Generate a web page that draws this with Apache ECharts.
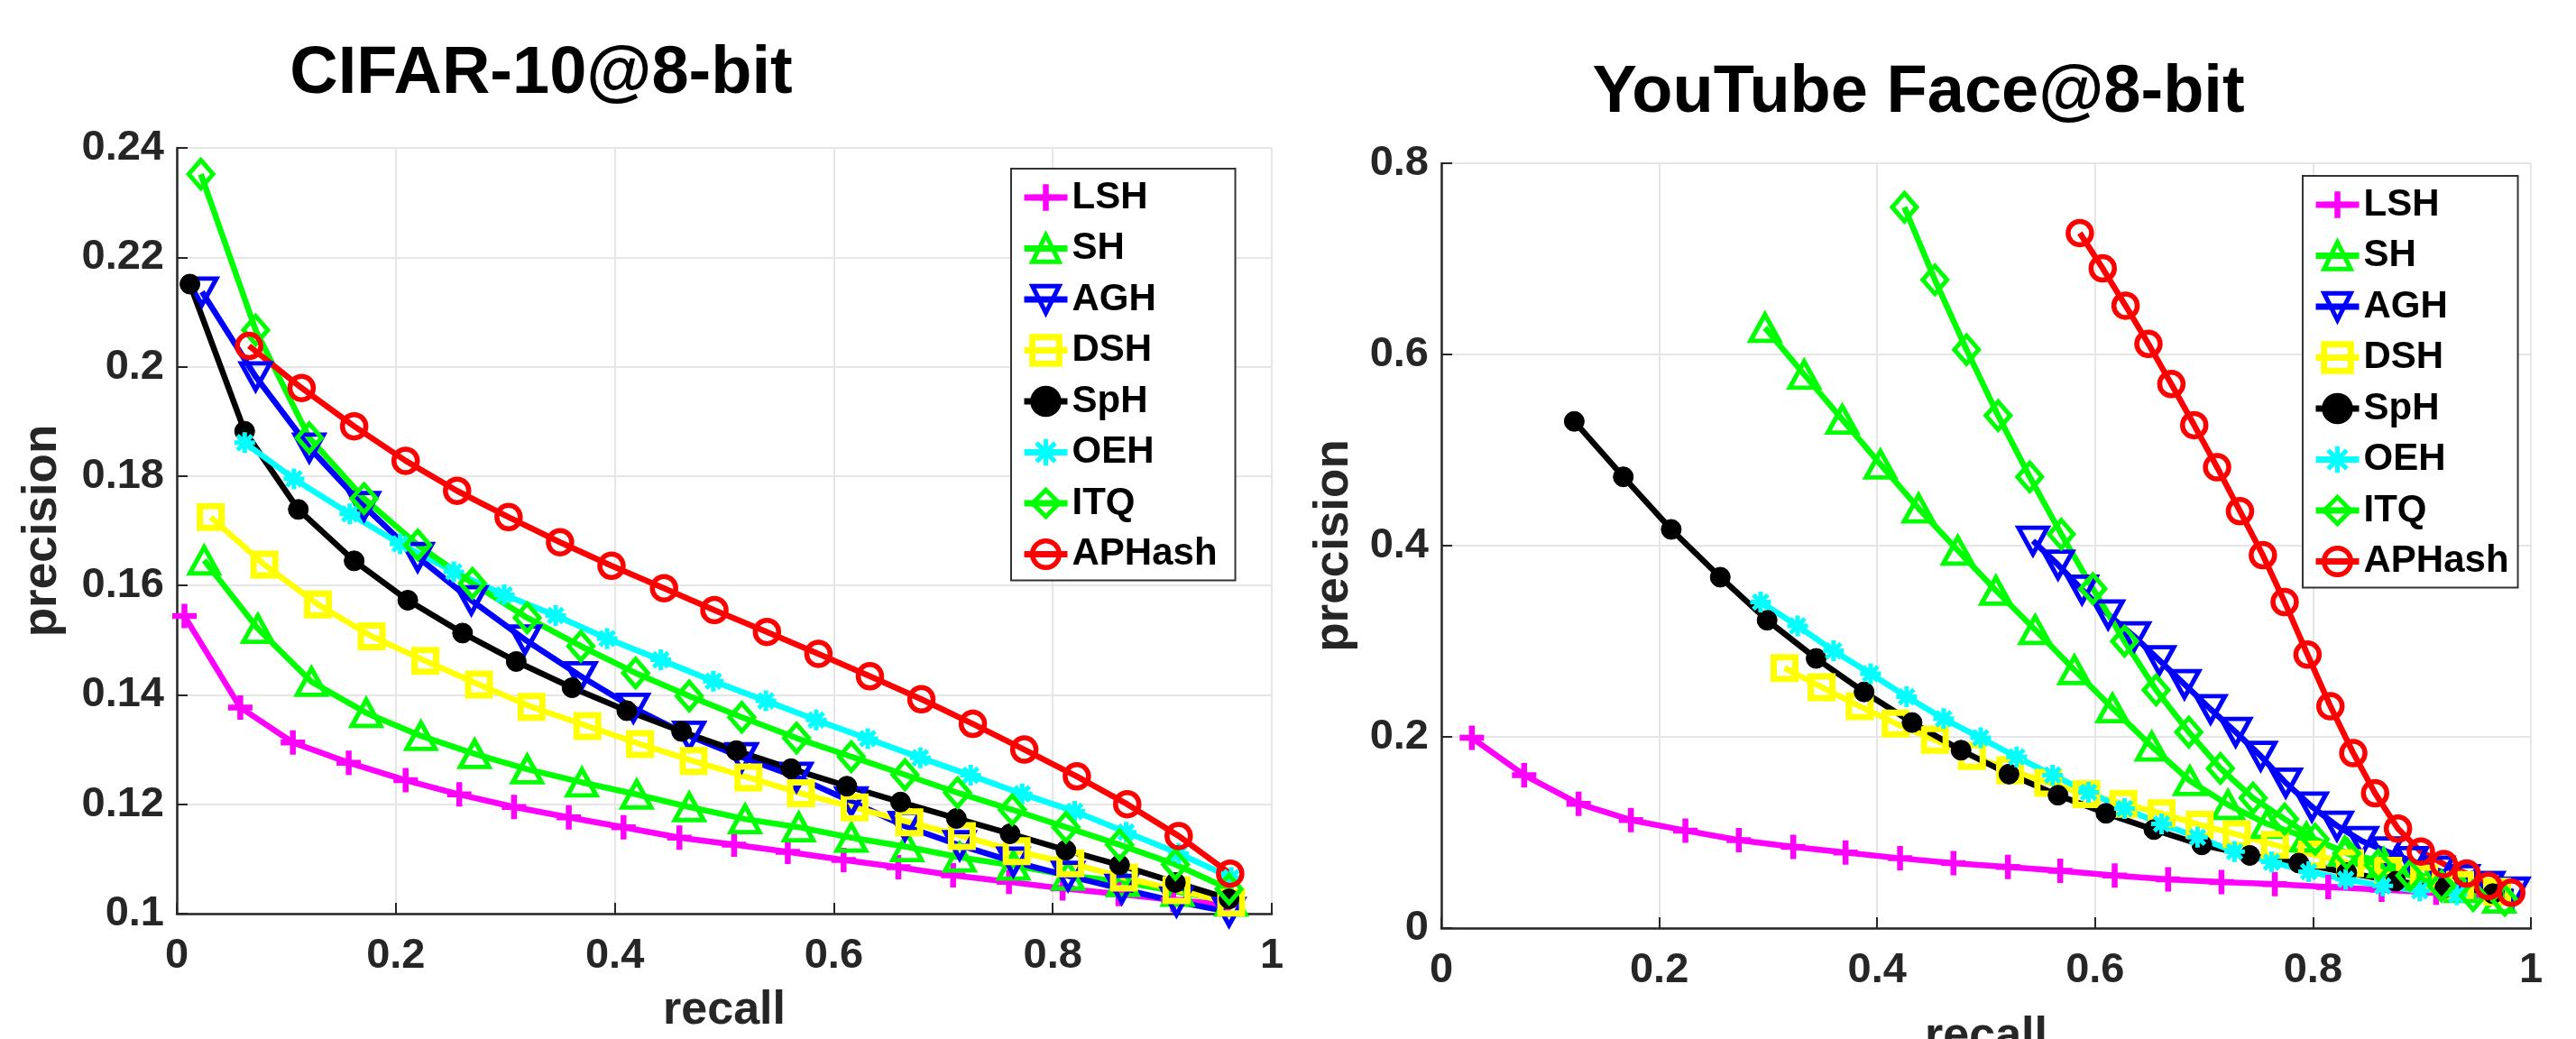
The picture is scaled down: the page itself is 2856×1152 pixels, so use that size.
<!DOCTYPE html>
<html><head><meta charset="utf-8">
<script src="https://cdn.jsdelivr.net/npm/echarts@6/dist/echarts.min.js"></script>
<style>html,body{margin:0;padding:0;background:#fff}#c{width:2856px;height:1152px}</style>
</head><body><div id="c"></div>
<script>
const methods = ['LSH','SH','AGH','DSH','SpH','OEH','ITQ','APHash'];
const titles = ['CIFAR-10@8-bit', 'YouTube Face@8-bit'];
const xTickValues = [0, 0.2, 0.4, 0.6, 0.8, 1];
const cifarYTicks = [0.1, 0.12, 0.14, 0.16, 0.18, 0.2, 0.22, 0.24];
const ytfYTicks = [0, 0.2, 0.4, 0.6, 0.8];

// ---- CIFAR-10 @ 8-bit (recall, precision) ----
const cifarRecallLSH = [0.007,0.058,0.106,0.157,0.209,0.258,0.308,0.358,0.408,0.459,0.509,0.558,0.609,0.659,0.709,0.760,0.809,0.860,0.910,0.960];
const cifarPrecLSH   = [0.1544,0.1377,0.1313,0.1276,0.1244,0.1218,0.1195,0.1176,0.1158,0.1139,0.1126,0.1113,0.1098,0.1085,0.1070,0.1058,0.1046,0.1036,0.1025,0.1016];
const cifarRecallSH  = [0.025,0.074,0.123,0.173,0.223,0.272,0.320,0.370,0.420,0.468,0.519,0.568,0.616,0.667,0.715,0.764,0.814,0.864,0.914,0.963];
const cifarPrecSH    = [0.1646,0.1521,0.1424,0.1367,0.1325,0.1292,0.1264,0.1240,0.1218,0.1195,0.1173,0.1158,0.1139,0.1122,0.1103,0.1088,0.1070,0.1058,0.1040,0.1022];
const cifarRecallAGH = [0.023,0.072,0.121,0.171,0.220,0.269,0.318,0.369,0.417,0.468,0.516,0.566,0.616,0.665,0.715,0.764,0.814,0.863,0.913,0.961];
const cifarPrecAGH   = [0.2137,0.1982,0.1852,0.1745,0.1652,0.1573,0.1501,0.1434,0.1376,0.1325,0.1286,0.1250,0.1205,0.1160,0.1125,0.1095,0.1069,0.1045,0.1022,0.1003];
const cifarRecallDSH = [0.031,0.080,0.129,0.178,0.227,0.276,0.324,0.375,0.423,0.472,0.522,0.570,0.619,0.669,0.717,0.767,0.816,0.865,0.913,0.963];
const cifarPrecDSH   = [0.1725,0.1638,0.1565,0.1507,0.1462,0.1419,0.1378,0.1343,0.1310,0.1279,0.1249,0.1220,0.1194,0.1167,0.1142,0.1114,0.1092,0.1066,0.1043,0.1020];
const cifarRecallSpH = [0.012,0.062,0.111,0.162,0.211,0.261,0.310,0.361,0.411,0.461,0.511,0.561,0.612,0.661,0.712,0.761,0.812,0.861,0.912,0.961];
const cifarPrecSpH   = [0.2151,0.1882,0.1739,0.1645,0.1573,0.1513,0.1461,0.1413,0.1371,0.1333,0.1298,0.1265,0.1233,0.1204,0.1174,0.1146,0.1116,0.1089,0.1057,0.1027];
const cifarRecallOEH = [0.062,0.107,0.158,0.204,0.253,0.299,0.346,0.393,0.442,0.490,0.538,0.584,0.631,0.679,0.725,0.772,0.820,0.867,0.915,0.963];
const cifarPrecOEH   = [0.1861,0.1795,0.1731,0.1676,0.1625,0.1583,0.1545,0.1503,0.1464,0.1425,0.1389,0.1354,0.1320,0.1285,0.1253,0.1219,0.1187,0.1149,0.1110,0.1066];
const cifarRecallITQ = [0.022,0.072,0.121,0.171,0.220,0.270,0.320,0.369,0.419,0.468,0.516,0.566,0.616,0.665,0.713,0.763,0.812,0.861,0.912,0.961];
const cifarPrecITQ   = [0.2352,0.2067,0.1870,0.1759,0.1674,0.1604,0.1541,0.1489,0.1440,0.1398,0.1359,0.1321,0.1287,0.1254,0.1221,0.1190,0.1158,0.1126,0.1090,0.1045];
const cifarRecallAPHash = [0.066,0.114,0.162,0.209,0.256,0.303,0.350,0.397,0.445,0.491,0.539,0.586,0.633,0.680,0.727,0.774,0.822,0.868,0.915,0.962];
const cifarPrecAPHash   = [0.2038,0.1961,0.1891,0.1828,0.1773,0.1725,0.1679,0.1636,0.1595,0.1555,0.1515,0.1475,0.1434,0.1392,0.1347,0.1300,0.1251,0.1200,0.1142,0.1073];

// ---- YouTube Face @ 8-bit (recall, precision) ----
const ytfRecallLSH = [0.028,0.076,0.126,0.174,0.224,0.273,0.323,0.371,0.421,0.470,0.520,0.568,0.618,0.667,0.716,0.765,0.814,0.863,0.913,0.961];
const ytfPrecLSH   = [0.199,0.160,0.130,0.113,0.102,0.092,0.085,0.079,0.073,0.068,0.064,0.060,0.055,0.051,0.048,0.046,0.043,0.040,0.037,0.035];
const ytfRecallSH  = [0.297,0.333,0.368,0.403,0.438,0.474,0.509,0.545,0.581,0.616,0.652,0.687,0.722,0.758,0.794,0.829,0.865,0.900,0.936,0.971];
const ytfPrecSH    = [0.628,0.579,0.532,0.485,0.439,0.395,0.353,0.312,0.270,0.230,0.190,0.154,0.129,0.109,0.095,0.080,0.068,0.055,0.042,0.031];
const ytfRecallAGH = [0.543,0.566,0.588,0.612,0.636,0.659,0.682,0.706,0.729,0.752,0.775,0.799,0.822,0.845,0.868,0.891,0.915,0.938,0.961,0.984];
const ytfPrecAGH   = [0.405,0.380,0.354,0.328,0.305,0.280,0.255,0.229,0.205,0.180,0.152,0.127,0.107,0.091,0.080,0.070,0.060,0.051,0.044,0.038];
const ytfRecallDSH = [0.315,0.349,0.384,0.417,0.453,0.487,0.522,0.557,0.592,0.626,0.661,0.696,0.730,0.765,0.799,0.834,0.869,0.902,0.935,0.969];
const ytfPrecDSH   = [0.272,0.252,0.232,0.214,0.197,0.180,0.165,0.152,0.140,0.130,0.120,0.108,0.098,0.087,0.077,0.068,0.060,0.052,0.045,0.038];
const ytfRecallSpH = [0.122,0.167,0.211,0.256,0.299,0.344,0.388,0.432,0.477,0.521,0.566,0.610,0.654,0.698,0.742,0.787,0.831,0.876,0.921,0.965];
const ytfPrecSpH   = [0.530,0.472,0.417,0.367,0.322,0.282,0.247,0.215,0.186,0.161,0.139,0.120,0.103,0.087,0.076,0.068,0.058,0.049,0.042,0.036];
const ytfRecallOEH = [0.293,0.327,0.360,0.394,0.427,0.461,0.495,0.528,0.561,0.594,0.627,0.661,0.694,0.728,0.762,0.796,0.830,0.864,0.898,0.932];
const ytfPrecOEH   = [0.341,0.316,0.290,0.266,0.242,0.219,0.199,0.179,0.160,0.142,0.125,0.109,0.095,0.080,0.069,0.059,0.051,0.044,0.039,0.035];
const ytfRecallITQ = [0.425,0.453,0.482,0.511,0.540,0.569,0.598,0.627,0.656,0.686,0.715,0.745,0.774,0.802,0.831,0.860,0.889,0.918,0.947,0.976];
const ytfPrecITQ   = [0.754,0.678,0.605,0.536,0.472,0.412,0.355,0.300,0.249,0.205,0.167,0.136,0.114,0.093,0.078,0.066,0.055,0.044,0.034,0.029];
const ytfRecallAPHash = [0.586,0.607,0.628,0.649,0.670,0.691,0.712,0.733,0.754,0.774,0.795,0.816,0.837,0.857,0.878,0.899,0.920,0.941,0.961,0.982];
const ytfPrecAPHash   = [0.727,0.690,0.651,0.611,0.569,0.526,0.482,0.436,0.390,0.341,0.286,0.232,0.183,0.141,0.104,0.080,0.067,0.057,0.044,0.037];

const cifarSets = {
  LSH:[cifarRecallLSH,cifarPrecLSH], SH:[cifarRecallSH,cifarPrecSH], AGH:[cifarRecallAGH,cifarPrecAGH],
  DSH:[cifarRecallDSH,cifarPrecDSH], SpH:[cifarRecallSpH,cifarPrecSpH], OEH:[cifarRecallOEH,cifarPrecOEH],
  ITQ:[cifarRecallITQ,cifarPrecITQ], APHash:[cifarRecallAPHash,cifarPrecAPHash]
};
const ytfSets = {
  LSH:[ytfRecallLSH,ytfPrecLSH], SH:[ytfRecallSH,ytfPrecSH], AGH:[ytfRecallAGH,ytfPrecAGH],
  DSH:[ytfRecallDSH,ytfPrecDSH], SpH:[ytfRecallSpH,ytfPrecSpH], OEH:[ytfRecallOEH,ytfPrecOEH],
  ITQ:[ytfRecallITQ,ytfPrecITQ], APHash:[ytfRecallAPHash,ytfPrecAPHash]
};

const FONT = '"Liberation Sans", Arial, sans-serif';
const CLEAR = 'rgba(255,255,255,0)';
const plusPath = 'path://M0,-10 L0,10 M-10,0 L10,0';
const starPath = 'path://M0,-10 L0,10 M-10,0 L10,0 M-7,-7 L7,7 M-7,7 L7,-7';
const styles = {
  LSH:    {c:'#ff00ff', symbol:plusPath, size:[27,27], fill:'#ff00ff', bw:6.5},
  SH:     {c:'#00ff00', symbol:'triangle', size:[32,29], fill:CLEAR, bw:5},
  AGH:    {c:'#0000ff', symbol:'triangle', rotate:180, size:[32,29], fill:CLEAR, bw:5},
  DSH:    {c:'#ffff00', symbol:'rect', size:[24,24], fill:CLEAR, bw:7},
  SpH:    {c:'#000000', symbol:'circle', size:[22,22], fill:'#000000', bw:1},
  OEH:    {c:'#00ffff', symbol:starPath, size:[23,23], fill:'#00ffff', bw:5},
  ITQ:    {c:'#00ff00', symbol:'diamond', size:[27,31], fill:CLEAR, bw:5},
  APHash: {c:'#ff0000', symbol:'circle', size:[26,26], fill:CLEAR, bw:5.5}
};

function buildSeries(sets, idx) {
  return methods.map(m => {
    const s = styles[m];
    const [xs, ys] = sets[m];
    return {
      name: m, type: 'line', xAxisIndex: idx, yAxisIndex: idx,
      data: xs.map((x, i) => [x, ys[i]]),
      symbol: s.symbol, symbolSize: s.size, symbolRotate: s.rotate || 0,
      showAllSymbol: true, clip: false,
      lineStyle: {color: s.c, width: 6.5},
      itemStyle: {color: s.fill, borderColor: s.c, borderWidth: s.bw},
      emphasis: {disabled: true},
      animation: false
    };
  });
}

const fmt = v => String(+(+v).toFixed(2));
function xAxis(idx, gap) {
  return {
    type: 'value', gridIndex: idx, min: xTickValues[0], max: xTickValues[xTickValues.length-1], interval: 0.2,
    name: 'recall', nameLocation: 'middle', nameGap: gap,
    nameTextStyle: {fontFamily: FONT, fontWeight: 'bold', fontSize: 52, color: '#262626'},
    axisLine: {show: true, onZero: false, lineStyle: {color: '#262626', width: 2.5}},
    axisTick: {show: true, inside: true, length: 12, lineStyle: {color: '#262626', width: 2}},
    axisLabel: {fontFamily: FONT, fontWeight: 'bold', fontSize: 47, color: '#262626', margin: 24, formatter: fmt},
    splitLine: {show: true, lineStyle: {color: '#e6e6e6', width: 2}}
  };
}
function yAxis(idx, ticks, gap) {
  return {
    type: 'value', gridIndex: idx, min: ticks[0], max: ticks[ticks.length-1], interval: +(ticks[1]-ticks[0]).toFixed(2),
    name: 'precision', nameLocation: 'middle', nameGap: gap,
    nameTextStyle: {fontFamily: FONT, fontWeight: 'bold', fontSize: 53, color: '#262626'},
    axisLine: {show: true, onZero: false, lineStyle: {color: '#262626', width: 2.5}},
    axisTick: {show: true, inside: true, length: 12, lineStyle: {color: '#262626', width: 2}},
    axisLabel: {fontFamily: FONT, fontWeight: 'bold', fontSize: 47, color: '#262626', margin: 14, formatter: fmt},
    splitLine: {show: true, lineStyle: {color: '#e6e6e6', width: 2}}
  };
}
function legend(left, top, padRight) {
  return {
    data: methods.map(m => ({
      name: m,
      itemStyle: {color: styles[m].fill, borderColor: styles[m].c, borderWidth: Math.max(styles[m].bw, 5)},
      lineStyle: {color: styles[m].c, width: 7}
    })),
    orient: 'vertical', left: left, top: top,
    itemWidth: 48, itemHeight: 37, itemGap: 12.5,
    padding: [10, padRight, 7, 11],
    borderColor: '#333333', borderWidth: 2, backgroundColor: '#ffffff',
    textStyle: {fontFamily: FONT, fontWeight: 'bold', fontSize: 42, color: '#000', lineHeight: 44},
    selectedMode: false
  };
}

const chart = echarts.init(document.getElementById('c'), null, {renderer: 'canvas'});
chart.setOption({
  animation: false,
  backgroundColor: '#ffffff',
  title: [
    {text: titles[0], left: 600, top: 46, textAlign: 'center', padding: 0,
     textStyle: {fontFamily: FONT, fontWeight: 'bold', fontSize: 74, color: '#000'}},
    {text: titles[1], left: 2127, top: 67, textAlign: 'center', padding: 0,
     textStyle: {fontFamily: FONT, fontWeight: 'bold', fontSize: 74, color: '#000'}}
  ],
  grid: [
    {left: 196, right: 2856-1410, top: 164, bottom: 1152-1013, outerBoundsMode: 'none'},
    {left: 1598, right: 2856-2806, top: 181, bottom: 1152-1029, outerBoundsMode: 'none'}
  ],
  xAxis: [xAxis(0, 82), xAxis(1, 95)],
  yAxis: [yAxis(0, cifarYTicks, 122), yAxis(1, ytfYTicks, 92)],
  legend: [legend(1121, 187, 20), legend(2553, 195, 10)],
  series: buildSeries(cifarSets, 0).concat(buildSeries(ytfSets, 1))
});
</script></body></html>
